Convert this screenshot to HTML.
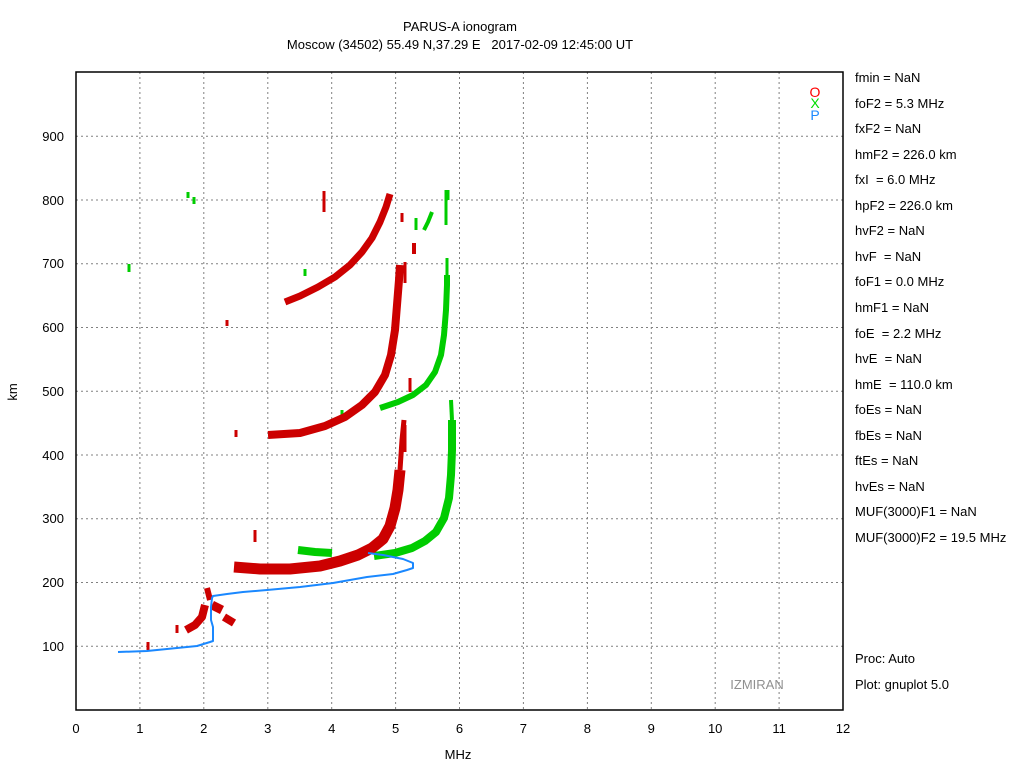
<!DOCTYPE html>
<html><head><meta charset="utf-8"><style>
html,body{margin:0;padding:0;background:#fff;}
svg{display:block;font-family:"Liberation Sans",sans-serif;}
text{white-space:pre;}
</style></head><body>
<svg width="1024" height="768" viewBox="0 0 1024 768" xmlns="http://www.w3.org/2000/svg" xml:space="preserve">
<rect width="1024" height="768" fill="#fff"/>
<text x="460" y="31" font-size="13" text-anchor="middle">PARUS-A ionogram</text>
<text x="460" y="49" font-size="13" text-anchor="middle">Moscow (34502) 55.49 N,37.29 E   2017-02-09 12:45:00 UT</text>
<g stroke="#808080" stroke-width="1" stroke-dasharray="2,3">
<line x1="139.9" y1="72" x2="139.9" y2="710"/><line x1="203.8" y1="72" x2="203.8" y2="710"/><line x1="267.8" y1="72" x2="267.8" y2="710"/><line x1="331.7" y1="72" x2="331.7" y2="710"/><line x1="395.6" y1="72" x2="395.6" y2="710"/><line x1="459.5" y1="72" x2="459.5" y2="710"/><line x1="523.4" y1="72" x2="523.4" y2="710"/><line x1="587.4" y1="72" x2="587.4" y2="710"/><line x1="651.3" y1="72" x2="651.3" y2="710"/><line x1="715.2" y1="72" x2="715.2" y2="710"/><line x1="779.1" y1="72" x2="779.1" y2="710"/>
<line x1="76" y1="646.25" x2="843" y2="646.25"/><line x1="76" y1="582.5" x2="843" y2="582.5"/><line x1="76" y1="518.75" x2="843" y2="518.75"/><line x1="76" y1="455" x2="843" y2="455"/><line x1="76" y1="391.25" x2="843" y2="391.25"/><line x1="76" y1="327.5" x2="843" y2="327.5"/><line x1="76" y1="263.75" x2="843" y2="263.75"/><line x1="76" y1="200" x2="843" y2="200"/><line x1="76" y1="136.25" x2="843" y2="136.25"/>
</g>
<rect x="76" y="72" width="767" height="638" fill="none" stroke="#000" stroke-width="1.5"/>
<g font-size="13" text-anchor="middle">
<text x="76" y="733">0</text><text x="139.9" y="733">1</text><text x="203.8" y="733">2</text><text x="267.8" y="733">3</text><text x="331.7" y="733">4</text><text x="395.6" y="733">5</text><text x="459.5" y="733">6</text><text x="523.4" y="733">7</text><text x="587.4" y="733">8</text><text x="651.3" y="733">9</text><text x="715.2" y="733">10</text><text x="779.1" y="733">11</text><text x="843" y="733">12</text>
<text x="458" y="759">MHz</text>
</g>
<g font-size="13" text-anchor="end">
<text x="64" y="651">100</text><text x="64" y="587">200</text><text x="64" y="523">300</text><text x="64" y="460">400</text><text x="64" y="396">500</text><text x="64" y="332">600</text><text x="64" y="268">700</text><text x="64" y="205">800</text><text x="64" y="141">900</text>
</g>
<text x="17" y="392" font-size="13" text-anchor="middle" transform="rotate(-90 17 392)">km</text>
<!-- green X traces (under red) -->
<g fill="none" stroke="#00cc00" stroke-linejoin="round">
<polyline stroke-width="8" points="298,550 315,552 332,553"/>
<polyline stroke-width="8" points="374,556 395,553 412,548 425,541 436,532 444,518 449,498 451,475 452,450 452,420"/>
<polyline stroke-width="4" points="452,420 451,400"/>
<polyline stroke-width="6" points="380,408 398,402 413,395 426,385 435,372 441,355 444,335 446,310 447,285 447,275"/>
<line stroke-width="3" x1="447" y1="258" x2="447" y2="280"/>
<polyline stroke-width="4" points="424,230 428,222 432,212"/>
<line stroke-width="3" x1="446" y1="190" x2="446" y2="225"/>
<line stroke-width="3" x1="448" y1="190" x2="448" y2="200"/>
<line stroke-width="3" x1="188" y1="192" x2="188" y2="198"/>
<line stroke-width="3" x1="194" y1="197" x2="194" y2="204"/>
<line stroke-width="3" x1="129" y1="264" x2="129" y2="272"/>
<line stroke-width="3" x1="305" y1="269" x2="305" y2="276"/>
<line stroke-width="3" x1="416" y1="218" x2="416" y2="230"/>
<line stroke-width="3" x1="342" y1="410" x2="342" y2="416"/>
</g>
<!-- red O traces -->
<g fill="none" stroke="#cc0000" stroke-linejoin="round" stroke-linecap="butt">
<polyline stroke-width="11" points="234,567 260,569 290,569 320,566 340,561 358,555 372,548 383,539 390,526 395,508 398,490 400,470"/>
<polyline stroke-width="5" points="400,470 402,440 404,420"/>
<polyline stroke-width="8" points="268,435 300,433 325,426 345,417 362,405 375,392 385,375 391,355 395,330 397,305 399,280 400,265"/>
<polyline stroke-width="7" points="285,302 300,296 318,287 335,277 350,265 362,252 372,238 380,222 386,207 390,194"/>
<polyline stroke-width="8" points="186,630 195,625 202,617 205,605"/>
<polyline stroke-width="6" points="207,588 210,600"/>
<polyline stroke-width="9" points="212,605 222,610"/>
<polyline stroke-width="8" points="224,617 234,623"/>
<line stroke-width="3" x1="324" y1="191" x2="324" y2="212"/>
<line stroke-width="3" x1="148" y1="642" x2="148" y2="650"/>
<line stroke-width="3" x1="177" y1="625" x2="177" y2="633"/>
<line stroke-width="3" x1="227" y1="320" x2="227" y2="326"/>
<line stroke-width="3" x1="236" y1="430" x2="236" y2="437"/>
<line stroke-width="3" x1="255" y1="530" x2="255" y2="542"/>
<line stroke-width="3" x1="402" y1="213" x2="402" y2="222"/>
<line stroke-width="3" x1="405" y1="425" x2="405" y2="452"/>
<line stroke-width="3" x1="410" y1="378" x2="410" y2="392"/>
<line stroke-width="4" x1="414" y1="243" x2="414" y2="254"/>
<line stroke-width="3" x1="405" y1="262" x2="405" y2="283"/>
</g>
<!-- blue P -->
<polyline fill="none" stroke="#1a88ff" stroke-width="2" stroke-linejoin="round" points="118,652 147,651 177,648 197,646 210,642 213,641 213,627 211,620 211,607 212,598 213,596 227,594 243,592 267,590 300,587 333,583 367,577 393,574 407,570 413,568 413,563 403,559 383,555 368,553"/>
<g font-size="14" text-anchor="middle">
<text x="815" y="97" fill="#ff0000">O</text>
<text x="815" y="108" fill="#00dd00">X</text>
<text x="815" y="120" fill="#1a88ff">P</text>
</g>
<text x="757" y="689" font-size="13" fill="#909090" text-anchor="middle">IZMIRAN</text>
<g font-size="13">
<text x="855" y="82">fmin = NaN</text>
<text x="855" y="108">foF2 = 5.3 MHz</text>
<text x="855" y="133">fxF2 = NaN</text>
<text x="855" y="159">hmF2 = 226.0 km</text>
<text x="855" y="184">fxI  = 6.0 MHz</text>
<text x="855" y="210">hpF2 = 226.0 km</text>
<text x="855" y="235">hvF2 = NaN</text>
<text x="855" y="261">hvF  = NaN</text>
<text x="855" y="286">foF1 = 0.0 MHz</text>
<text x="855" y="312">hmF1 = NaN</text>
<text x="855" y="338">foE  = 2.2 MHz</text>
<text x="855" y="363">hvE  = NaN</text>
<text x="855" y="389">hmE  = 110.0 km</text>
<text x="855" y="414">foEs = NaN</text>
<text x="855" y="440">fbEs = NaN</text>
<text x="855" y="465">ftEs = NaN</text>
<text x="855" y="491">hvEs = NaN</text>
<text x="855" y="516">MUF(3000)F1 = NaN</text>
<text x="855" y="542">MUF(3000)F2 = 19.5 MHz</text>
<text x="855" y="663">Proc: Auto</text>
<text x="855" y="689">Plot: gnuplot 5.0</text>
</g>
</svg>
</body></html>
